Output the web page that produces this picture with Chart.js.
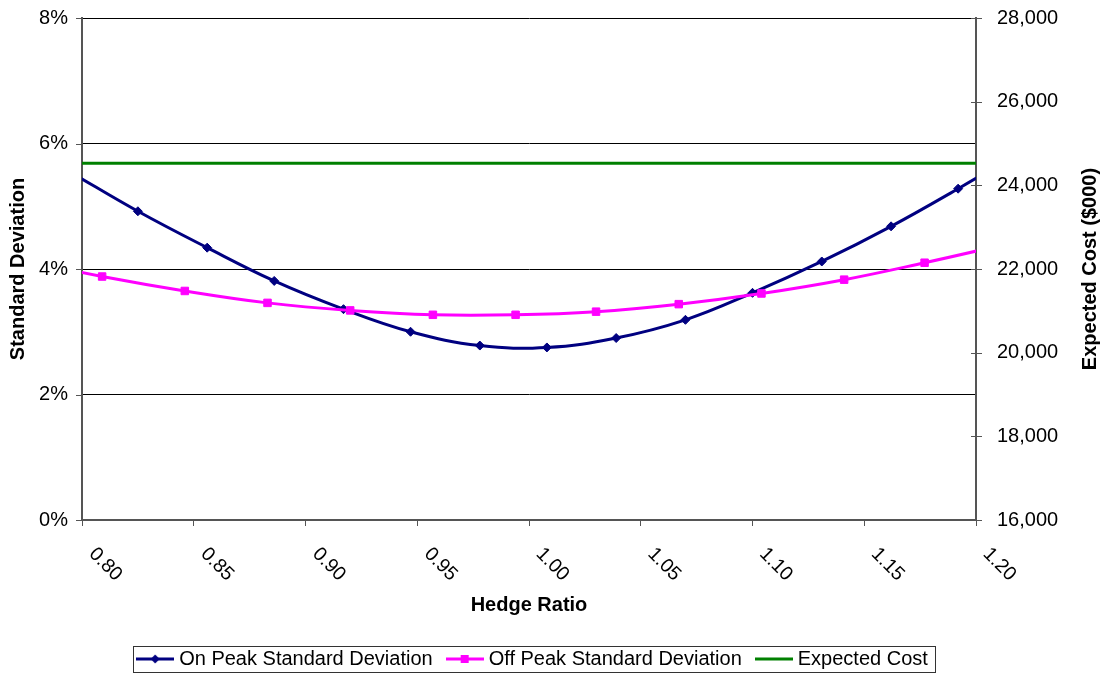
<!DOCTYPE html>
<html><head><meta charset="utf-8">
<script src="https://cdn.jsdelivr.net/npm/chart.js@4.4.1/dist/chart.umd.min.js"></script>
<style>html,body{margin:0;padding:0;background:#fff;}</style>
</head><body>
<canvas id="c" width="1103" height="675"></canvas>
<script>
// ---- data ----
const xTickLabels = ['0.80','0.85','0.90','0.95','1.00','1.05','1.10','1.15','1.20'];
const onPeakX = [0.795, 0.825, 0.856, 0.886, 0.917, 0.947, 0.978, 1.008, 1.039, 1.070, 1.100, 1.131, 1.162, 1.192, 1.223];
const onPeakY = [5.54, 4.92, 4.34, 3.81, 3.36, 3.00, 2.78, 2.75, 2.90, 3.19, 3.62, 4.12, 4.68, 5.28, 5.93];
const offPeakX = [0.772, 0.809, 0.846, 0.883, 0.920, 0.957, 0.994, 1.030, 1.067, 1.104, 1.141, 1.177, 1.214];
const offPeakY = [4.15, 3.88, 3.65, 3.46, 3.34, 3.27, 3.27, 3.32, 3.44, 3.61, 3.83, 4.10, 4.40];
const costX = [0.795, 0.825, 0.856, 0.886, 0.917, 0.947, 0.978, 1.008, 1.039, 1.070, 1.100, 1.131, 1.162, 1.192, 1.223];
const costY = [24530, 24530, 24530, 24530, 24530, 24530, 24530, 24530, 24530, 24530, 24530, 24530, 24530, 24530, 24530];
const seriesNames = ['On Peak Standard Deviation', 'Off Peak Standard Deviation', 'Expected Cost'];
const leftTitle = 'Standard Deviation';
const rightTitle = 'Expected Cost ($000)';
const xTitle = 'Hedge Ratio';

const FONT = "'Liberation Sans', Arial, sans-serif";
const FS = 20;
const FS_X = 19.5;
const NAVY = '#000080', MAGENTA = '#FF00FF', GREEN = '#008000', AXIS = '#555555';
const NONE = 'rgba(0,0,0,0)';
Chart.defaults.font.family = FONT;
Chart.defaults.font.size = FS;
Chart.defaults.color = '#000';

function legendImg(color, marker) {
  const c = document.createElement('canvas');
  c.width = 38; c.height = 12;
  const g = c.getContext('2d');
  g.strokeStyle = color; g.lineWidth = 3;
  g.beginPath(); g.moveTo(0, 6); g.lineTo(38, 6); g.stroke();
  g.fillStyle = color;
  if (marker === 'diamond') {
    g.beginPath(); g.moveTo(14.5, 6); g.lineTo(19, 1.5); g.lineTo(23.5, 6); g.lineTo(19, 10.5); g.closePath(); g.fill();
  } else if (marker === 'square') {
    g.fillRect(15, 2, 8, 8);
  }
  return c;
}
const legendImgs = [legendImg(NAVY, 'diamond'), legendImg(MAGENTA, 'square'), legendImg(GREEN, null)];

const pts = (xs, ys) => xs.map((x, i) => ({ x: x, y: ys[i] }));

const extras = {
  id: 'extras',
  afterDraw(chart) {
    const ctx = chart.ctx;
    const xs = chart.scales.x, yl = chart.scales.y, yr = chart.scales.y2;
    const area = chart.chartArea;
    ctx.save();
    // x tick labels rotated clockwise
    ctx.fillStyle = '#000';
    ctx.font = FS_X + 'px ' + FONT;
    ctx.textAlign = 'left';
    ctx.textBaseline = 'middle';
    xTickLabels.forEach(lb => {
      const px = xs.getPixelForValue(parseFloat(lb));
      ctx.save();
      ctx.translate(px + 10, area.bottom + 31);
      ctx.rotate(Math.PI / 4);
      ctx.fillText(lb, 0, 0);
      ctx.restore();
    });
    // right axis title reading bottom-to-top
    ctx.save();
    ctx.font = 'bold ' + FS + 'px ' + FONT;
    ctx.textAlign = 'center';
    ctx.textBaseline = 'middle';
    ctx.translate(1090, (area.top + area.bottom) / 2);
    ctx.rotate(-Math.PI / 2);
    ctx.fillText(rightTitle, 0, 0);
    ctx.restore();
    // axis tick marks: left outside, right crossing
    ctx.strokeStyle = AXIS; ctx.lineWidth = 1;
    yl.ticks.forEach(t => {
      const py = Math.round(yl.getPixelForValue(t.value)) + 0.5;
      ctx.beginPath(); ctx.moveTo(area.left - 6, py); ctx.lineTo(area.left, py); ctx.stroke();
    });
    yr.ticks.forEach(t => {
      const py = Math.round(yr.getPixelForValue(t.value)) + 0.5;
      ctx.beginPath(); ctx.moveTo(area.right - 5, py); ctx.lineTo(area.right + 6, py); ctx.stroke();
    });
    // legend frame
    const hb = chart.legend.legendHitBoxes;
    if (hb && hb.length) {
      const l = hb[0].left - 8.5;
      const r = hb[hb.length - 1].left + hb[hb.length - 1].width + 7;
      const cy = hb[0].top + hb[0].height / 2;
      ctx.strokeStyle = '#333'; ctx.lineWidth = 1;
      ctx.strokeRect(Math.round(l) + 0.5, Math.round(cy - 13) + 0.5, Math.round(r - l), 26);
    }
    ctx.restore();
  }
};

new Chart(document.getElementById('c'), {
  type: 'line',
  data: {
    datasets: [
      { label: seriesNames[0], data: pts(onPeakX, onPeakY), yAxisID: 'y',
        borderColor: NAVY, backgroundColor: NAVY, borderWidth: 3,
        pointStyle: 'rectRot', pointRadius: 4.5, pointBorderWidth: 1,
        pointBackgroundColor: NAVY, pointBorderColor: NAVY, tension: 0.4, order: 1 },
      { label: seriesNames[1], data: pts(offPeakX, offPeakY), yAxisID: 'y',
        borderColor: MAGENTA, backgroundColor: MAGENTA, borderWidth: 3,
        pointStyle: 'rect', pointRadius: 5.3, pointBorderWidth: 1,
        pointBackgroundColor: MAGENTA, pointBorderColor: MAGENTA, tension: 0.4, order: 0 },
      { label: seriesNames[2], data: pts(costX, costY), yAxisID: 'y2',
        borderColor: GREEN, backgroundColor: GREEN, borderWidth: 3,
        pointRadius: 0, tension: 0, order: 2 }
    ]
  },
  options: {
    responsive: false,
    animation: false,
    events: [],
    elements: { line: { capBezierPoints: false } },
    layout: { padding: { top: 18, left: 0, right: 34, bottom: 0 } },
    plugins: {
      tooltip: { enabled: false },
      legend: {
        position: 'bottom',
        maxHeight: 44,
        labels: {
          usePointStyle: true,
          pointStyleWidth: 28,
          padding: 18,
          color: '#000',
          font: { size: FS },
          generateLabels(chart) {
            return chart.data.datasets.map((ds, i) => ({
              text: ds.label, fillStyle: ds.borderColor, strokeStyle: ds.borderColor,
              lineWidth: 0, pointStyle: legendImgs[i], datasetIndex: i, hidden: false
            }));
          }
        }
      }
    },
    scales: {
      x: {
        type: 'linear', min: 0.8, max: 1.2,
        ticks: { display: false, stepSize: 0.05 },
        grid: { drawOnChartArea: false, drawTicks: true, tickLength: 6, color: AXIS },
        border: { color: AXIS, width: 2 },
        title: { display: true, text: xTitle, color: '#000', font: { size: FS, weight: 'bold' }, padding: { top: 0, bottom: 14 } },
        afterFit(s) { s.height = 111; }
      },
      y: {
        position: 'left', min: 0, max: 8,
        ticks: { stepSize: 2, padding: 6, color: '#000', callback: v => v + '%' },
        grid: { color: '#000', lineWidth: 1, tickLength: 8, tickColor: NONE },
        border: { color: AXIS, width: 2 },
        title: { display: true, text: leftTitle, color: '#000', font: { size: FS, weight: 'bold' }, padding: { top: 6, bottom: 0 } },
        afterFit(s) { s.width = 82; }
      },
      y2: {
        position: 'right', min: 16000, max: 28000,
        ticks: { stepSize: 2000, padding: 6, color: '#000', callback: v => v.toLocaleString('en-US') },
        grid: { drawOnChartArea: false, tickLength: 15, color: NONE, tickColor: NONE },
        border: { color: AXIS, width: 2 },
        afterFit(s) { s.width = 93; }
      }
    }
  },
  plugins: [extras]
});
</script>
</body></html>
